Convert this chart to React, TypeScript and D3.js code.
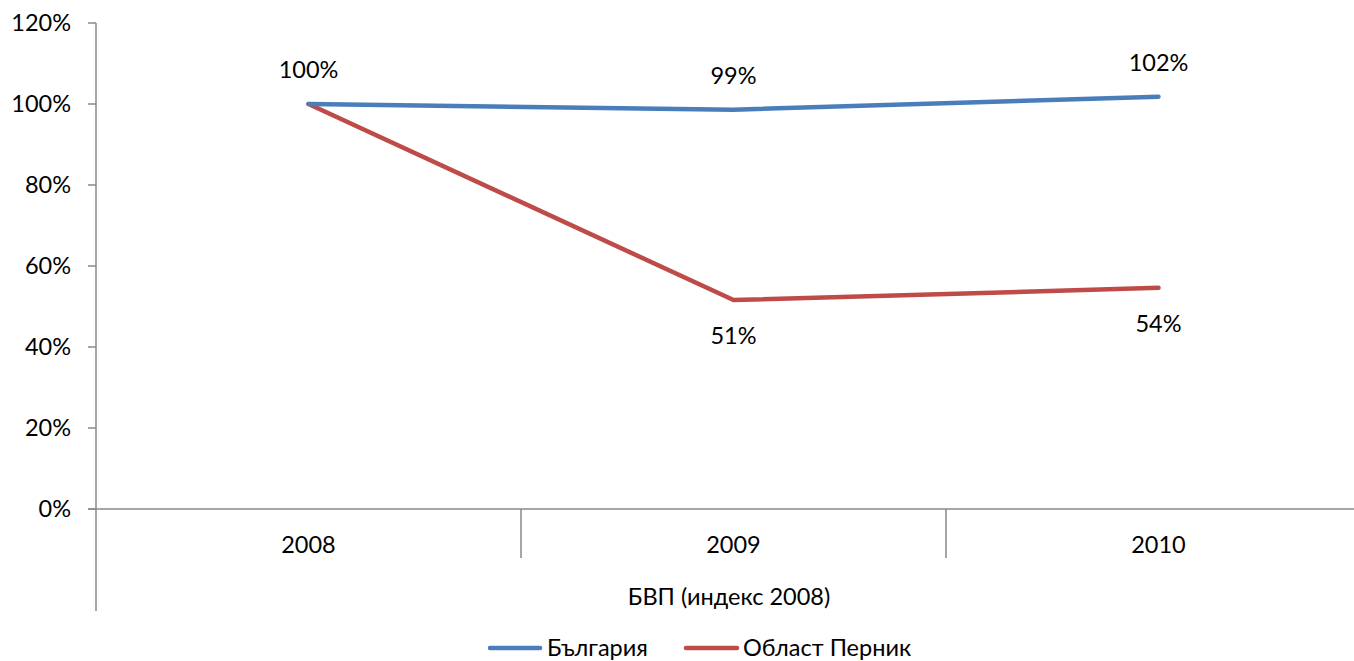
import React from "react";
import { scaleBand, scaleLinear, line } from "d3";

const years = ["2008", "2009", "2010"];
const bulgaria = [100, 98.6, 101.8];
const pernik = [100, 51.6, 54.6];
const bulgariaLabels = ["100%", "99%", "102%"];
const pernikLabels = ["", "51%", "54%"];
const yTicks = [0, 20, 40, 60, 80, 100, 120];
const seriesNames = ["България", "Област Перник"];
const axisTitle = "БВП (индекс 2008)";

const W = 1354;
const H = 661;
const FONT = "Lato, 'Open Sans', sans-serif";
const FS = 23.5;

export default function App() {
  const x = scaleBand<string>().domain(years).range([96, 1371]);
  const y = scaleLinear().domain([0, 120]).range([509, 23]);
  const cx = (d: string) => (x(d) || 0) + x.bandwidth() / 2;

  const mk = (vals: number[]) =>
    line<number>()
      .x((_, i) => cx(years[i]))
      .y((v) => y(v))(vals) || "";

  const colors = ["#4A7EBB", "#BE4B48"];
  const axisColor = "#898989";

  return (
    <svg
      width={W}
      height={H}
      style={{ position: "absolute", left: 0, top: 0, background: "#fff" }}
      fontFamily={FONT}
    >
      {/* y axis */}
      <line x1={96} x2={96} y1={y(120)} y2={611} stroke={axisColor} strokeWidth={1.5} />
      {yTicks.map((t) => (
        <g key={t}>
          <line x1={88} x2={96} y1={y(t)} y2={y(t)} stroke={axisColor} strokeWidth={1.5} />
          <text x={71} y={y(t)} dy="0.36em" textAnchor="end" fontSize={FS} fill="#000">
            {t}%
          </text>
        </g>
      ))}
      {/* x axis */}
      <line x1={88} x2={W} y1={y(0)} y2={y(0)} stroke={axisColor} strokeWidth={1.5} />
      {years.slice(1).map((d) => (
        <line
          key={d}
          x1={x(d) || 0}
          x2={x(d) || 0}
          y1={y(0)}
          y2={558}
          stroke={axisColor}
          strokeWidth={1.5}
        />
      ))}
      {years.map((d) => (
        <text key={d} x={cx(d)} y={545} dy="0.36em" textAnchor="middle" fontSize={FS} fill="#000">
          {d}
        </text>
      ))}
      <text x={729} y={597} dy="0.36em" textAnchor="middle" fontSize={FS} fill="#000">
        {axisTitle}
      </text>

      {/* lines */}
      <path d={mk(pernik)} fill="none" stroke={colors[1]} strokeWidth={4.5} strokeLinejoin="round" strokeLinecap="round" />
      <path d={mk(bulgaria)} fill="none" stroke={colors[0]} strokeWidth={4.5} strokeLinejoin="round" strokeLinecap="round" />

      {/* data labels */}
      {bulgaria.map((v, i) => (
        <text key={"b" + i} x={cx(years[i])} y={y(v) - 34} dy="0.36em" textAnchor="middle" fontSize={FS} fill="#000">
          {bulgariaLabels[i]}
        </text>
      ))}
      {pernik.map((v, i) =>
        pernikLabels[i] ? (
          <text key={"p" + i} x={cx(years[i])} y={y(v) + 36} dy="0.36em" textAnchor="middle" fontSize={FS} fill="#000">
            {pernikLabels[i]}
          </text>
        ) : null
      )}

      {/* legend */}
      <line x1={490} x2={540} y1={648} y2={648} stroke={colors[0]} strokeWidth={4.5} strokeLinecap="round" />
      <text x={547} y={648} dy="0.36em" fontSize={FS} fill="#000">{seriesNames[0]}</text>
      <line x1={686} x2={737} y1={648} y2={648} stroke={colors[1]} strokeWidth={4.5} strokeLinecap="round" />
      <text x={743} y={648} dy="0.36em" fontSize={FS} fill="#000">{seriesNames[1]}</text>
    </svg>
  );
}
